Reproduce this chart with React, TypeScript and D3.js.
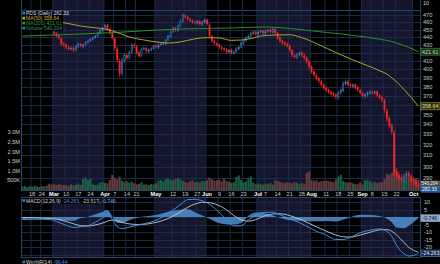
import React from "react";
import * as d3 from "d3";

// ---- Data (trading days Feb 11 – Oct 3, 2014) ----
const tickIdx = [4, 8, 13, 18, 23, 28, 34, 38, 43, 47, 55, 62, 67, 72, 76, 81, 86, 91, 97, 100, 105, 110, 115, 119, 125, 130, 135, 140, 144, 149, 154, 161];
const tickLabels = ["18", "24", "Mar", "10", "17", "24", "Apr", "7", "14", "21", "May", "12", "19", "27", "Jun", "9", "16", "23", "Jul", "7", "14", "21", "28", "Aug", "11", "18", "25", "Sep", "8", "15", "22", "Oct"];
const monthNames = ["Mar", "Apr", "May", "Jun", "Jul", "Aug", "Sep", "Oct"];
const shadedMonths = [[13, 34], [55, 76], [97, 119], [140, 161]];

const closes = [
  452.2, 453.6, 454.9, 456.3, 457.6, 459.0, 460.4, 460.4, 459.0, 461.7,
  457.6, 454.9, 452.2, 445.6, 441.6, 439.0, 431.3, 430.0, 427.5, 425.0,
  426.2, 423.7, 428.7, 431.3, 428.7, 430.0, 433.9, 435.1, 437.7, 439.0,
  441.6, 445.6, 449.6, 452.2, 456.3, 450.9, 445.6, 439.0, 426.2, 411.4,
  394.8, 411.4, 417.5, 413.8, 421.2, 430.0, 428.7, 420.0, 416.3, 425.0,
  426.2, 422.5, 423.7, 425.0, 428.7, 427.5, 430.0, 431.3, 432.6, 436.4,
  441.6, 446.9, 452.2, 449.6, 454.9, 461.7, 470.0, 467.2, 464.5, 461.7,
  460.4, 459.0, 461.7, 457.6, 460.4, 463.1, 457.6, 441.6, 435.1, 432.6,
  430.0, 427.5, 425.0, 423.7, 421.2, 423.7, 420.0, 421.2, 425.0, 427.5,
  432.6, 436.4, 439.0, 441.6, 445.6, 446.9, 444.3, 446.9, 448.2, 445.6,
  448.2, 449.6, 446.9, 450.9, 445.6, 439.0, 435.1, 432.6, 431.3, 428.7,
  423.7, 417.5, 415.0, 418.7, 420.0, 417.5, 413.8, 409.0, 403.0, 397.1,
  393.6, 389.0, 386.7, 382.2, 378.8, 376.6, 374.4, 372.2, 371.1, 368.9,
  373.3, 376.6, 383.3, 385.6, 382.2, 381.0, 382.2, 378.8, 376.6, 373.3,
  370.0, 371.1, 373.3, 374.4, 373.3, 374.4, 370.0, 367.8, 365.7, 355.0,
  345.6, 338.5, 332.6, 295.4, 291.9, 290.2, 288.4, 291.9, 293.6, 291.0,
  288.4, 286.7, 284.2, 282.33,
];
const opens = [
  450.5, 452.0, 454.0, 455.0, 456.5, 457.8, 459.5, 461.0, 460.0, 459.5,
  461.0, 457.0, 455.0, 451.5, 445.0, 442.0, 438.5, 431.5, 430.5, 427.0,
  425.5, 426.5, 424.0, 428.0, 431.5, 428.0, 430.5, 434.0, 435.5, 437.5,
  439.5, 442.0, 445.5, 449.0, 452.5, 456.5, 451.0, 445.0, 438.5, 425.5,
  410.0, 395.5, 411.0, 417.0, 414.0, 421.5, 430.5, 428.0, 420.5, 416.5,
  425.5, 426.0, 422.0, 424.0, 425.5, 429.0, 427.0, 430.5, 431.5, 432.0,
  436.5, 441.0, 447.5, 452.0, 449.0, 455.0, 461.0, 469.5, 467.0, 464.0,
  462.0, 460.0, 458.5, 461.5, 457.0, 460.0, 463.5, 457.0, 441.0, 435.5,
  432.0, 430.5, 427.0, 425.5, 424.0, 421.0, 424.0, 420.5, 421.5, 425.0,
  427.5, 432.0, 436.0, 439.5, 441.5, 445.0, 447.5, 444.0, 447.0, 448.5,
  445.0, 448.0, 450.0, 446.5, 451.0, 445.5, 439.5, 435.5, 433.0, 431.0,
  429.0, 423.5, 417.0, 414.5, 418.5, 420.5, 417.0, 414.0, 409.5, 403.5,
  397.5, 393.0, 389.5, 386.0, 382.5, 379.0, 376.5, 374.0, 372.5, 371.0,
  368.5, 373.0, 376.0, 383.0, 386.0, 382.5, 380.5, 382.5, 379.0, 376.5,
  373.0, 369.5, 371.0, 373.5, 374.5, 373.0, 374.5, 370.5, 368.0, 365.0,
  354.0, 346.0, 339.0, 332.0, 296.0, 292.5, 290.5, 288.0, 292.0, 294.0,
  291.5, 288.5, 287.0, 284.5,
];
const highs = [
  454, 455, 456, 458, 459, 461, 462, 463, 462, 463,
  462, 459, 456, 453, 447, 444, 440, 434, 432, 429,
  428, 428, 430, 433, 433, 432, 435, 437, 439, 441,
  443, 447, 451, 454, 458, 458, 453, 447, 440, 428,
  413, 414, 420, 419, 423, 432, 432, 430, 423, 427,
  428, 428, 426, 427, 430, 431, 432, 433, 434, 438,
  443, 449, 454, 454, 457, 464, 472, 471, 469, 466,
  464, 462, 463, 463, 462, 465, 465, 459, 443, 437,
  434, 432, 429, 427, 426, 425, 426, 423, 427, 429,
  435, 438, 441, 443, 447, 449, 449, 449, 450, 450,
  450, 451, 452, 453, 453, 447, 441, 437, 435, 433,
  431, 425, 419, 420, 422, 422, 419, 416, 411, 405,
  399, 395, 391, 388, 384, 381, 378, 376, 374, 373,
  375, 378, 386, 388, 388, 384, 384, 384, 381, 378,
  375, 373, 375, 376, 376, 376, 376, 372, 370, 367,
  356, 348, 341, 334, 299, 295, 293, 294, 296, 296,
  293, 291, 289, 287,
];
const lows = [
  449, 450, 452, 453, 455, 456, 458, 458, 457, 458,
  456, 453, 450, 443, 440, 437, 429, 428, 425, 423,
  423, 421, 422, 426, 427, 426, 429, 432, 434, 436,
  438, 440, 444, 447, 451, 449, 443, 437, 423, 408,
  391, 393, 408, 411, 412, 419, 426, 418, 414, 415,
  423, 420, 420, 422, 424, 426, 425, 429, 430, 430,
  435, 439, 446, 447, 447, 453, 459, 465, 462, 460,
  458, 457, 457, 455, 455, 458, 455, 439, 433, 430,
  428, 425, 423, 422, 419, 419, 418, 418, 420, 423,
  426, 430, 434, 438, 440, 443, 442, 442, 445, 443,
  443, 446, 445, 445, 443, 437, 433, 430, 429, 427,
  421, 415, 413, 412, 416, 415, 411, 407, 400, 395,
  391, 387, 384, 380, 376, 374, 372, 370, 369, 366,
  366, 371, 374, 381, 380, 379, 378, 377, 374, 371,
  368, 367, 369, 371, 371, 371, 368, 366, 363, 352,
  343, 336, 330, 292, 289, 288, 286, 286, 290, 289,
  286, 284, 282, 280,
];
// volume in thousands
const volumes = [
  180, 220, 150, 200, 170, 230, 190, 160, 210, 180, 240,
  330, 280, 300,
  260, 310, 280, 250,
  270, 220, 300, 250, 280, 330, 260,
  580, 650, 520, 600,
  300, 260, 280,
  380, 420, 360, 350,
  520, 780, 640, 560,
  700, 480, 420, 450,
  380, 430, 350, 300, 320, 400,
  280, 300, 260, 320, 290, 350,
  480, 520, 450, 560, 600, 530, 500, 580, 620, 550,
  480, 420, 380, 450, 500, 400, 420, 380, 460, 440,
  520, 650, 560, 480, 500,
  520, 450, 600, 480,
  420, 380, 400, 680, 760, 520,
  400, 450, 620, 700,
  380, 300, 350, 320, 280, 330,
  300, 360, 280, 500,
  480, 420, 380, 360, 400, 380,
  350, 420, 380, 320, 360, 300,
  900, 950, 520, 480,
  500, 420, 460, 480,
  500, 470, 440, 420, 560, 700,
  800, 460, 420, 380, 400,
  350, 320, 300, 380, 280,
  500, 520, 460, 380, 420, 360,
  400, 420, 600, 850,
  800, 900, 1100, 950, 750,
  650, 600, 700, 620, 580,
  560, 600, 540.2,
];

const ma50Idx = [0, 15, 20, 24, 30, 34, 38, 44, 50, 55, 60, 65, 71, 76, 81, 86, 90, 95, 98, 104, 110, 115, 122, 129, 136, 142, 147, 150, 153, 156, 160, 163];
const ma50Val = [466, 460.8, 457.5, 454.9, 452.5, 450.9, 447.5, 440.3, 436.5, 434, 432.6, 433.9, 438.0, 439.5, 439.0, 436.0, 436.4, 439, 441.6, 443.0, 443.3, 439.5, 430.5, 420.5, 411.5, 404.5, 398.5, 394.5, 388, 380, 368, 358.64];
const ma200Idx = [0, 34, 65, 85, 100, 108, 122, 136, 147, 152, 155, 159, 163];
const ma200Val = [441.6, 445.6, 450.9, 452.2, 453.6, 452.2, 447.4, 442.5, 437.5, 434.5, 431.5, 427, 421.61];

const macdIdx = [0, 5, 11, 14, 18, 21, 24, 27, 30, 33, 35, 37, 39, 41, 44, 48, 52, 56, 60, 63, 66, 68, 71, 74, 77, 79, 82, 85, 87, 90, 93, 96, 99, 103, 106, 109, 112, 115, 118, 121, 125, 129, 132, 135, 139, 143, 147, 150, 152, 154, 157, 159, 161, 163];
const macdLine = [-1.7, -1.5, -1.6, -3, -5.5, -7, -6.5, -5.8, -3.5, -0.5, 1.8, -1.5, -6.5, -7.7, -6.8, -5.2, -3.8, -1.5, 2.5, 5.8, 9.5, 11.6, 11.8, 10.8, 8.5, 6, 1.5, -3.5, -6, -5.8, -2, 1.2, 3, 3.2, 1.5, -0.5, -2.5, -4.5, -7, -9.5, -12, -15, -15, -13.5, -10.5, -8.8, -7.9, -9.5, -13, -19, -24.5, -26, -25.5, -24.263];
const signalLine = [-0.3, -0.6, -1.0, -1.5, -3.0, -4.5, -5.8, -6.0, -5.3, -4.0, -2.8, -2.0, -2.6, -3.6, -4.6, -5.0, -4.5, -3.2, -1.0, 1.5, 4.5, 6.5, 8.6, 9.8, 9.6, 8.8, 6.8, 3.5, 1.0, -1.8, -2.8, -1.8, 0.3, 2.0, 2.2, 1.4, -0.2, -2.0, -4.2, -6.6, -9.4, -12.0, -13.2, -13.4, -12.0, -10.2, -8.6, -8.4, -9.5, -12.0, -17.0, -20.2, -22.2, -23.517];
const histVals = [-1.4, -0.9, -0.6, -1.5, -2.5, -2.5, -0.7, 0.2, 1.8, 3.5, 4.6, 0.5, -3.9, -4.1, -2.2, -0.2, 0.7, 1.7, 3.5, 4.3, 5.0, 5.1, 3.2, 1.0, -1.1, -2.8, -4.5, -5.0, -5.0, -4.0, 0.8, 3.0, 2.7, 1.2, -0.7, -1.9, -2.3, -2.5, -2.8, -2.9, -2.6, -3.0, -1.8, -0.1, 1.5, 1.4, 0.7, -1.1, -3.5, -7.0, -7.5, -5.8, -3.3, -0.746];

const priceGrid = [470, 460, 450, 440, 430, 420, 410, 400, 390, 380, 370, 360, 350, 340, 330, 320, 310, 300, 290];
const priceLabels = [470, 460, 450, 440, 430, 410, 400, 390, 380, 370, 350, 340, 330, 320, 310, 300, 290];
const volTicks = [500, 1000, 1500, 2000, 2500, 3000];
const volTickLabels = ["500K", "1.0M", "1.5M", "2.0M", "2.5M", "3.0M"];
const macdGrid = [10, 5, 0, -5, -10, -15, -20, -25];
const macdLabels = [10, 5, -5, -10, -15, -20];

// ---- Layout / style ----
const W = 440, H = 264;
const PL = 21, PR = 420.5;
const MAIN_TOP = 10.5, MAIN_BOT = 190.5;
const MACD_TOP = 197.5, MACD_BOT = 257.5;
const SHADE = "#15152e";
const GRID = "#1b2b47";
const BORDER = "#2b4368";
const RED = "#ff2222";
const BLUE = "#3f7dc6";
const FONT = "Liberation Sans, Arial, sans-serif";

export default function App() {
  const n = closes.length;
  const x = d3.scaleLinear().domain([0, n - 1]).range([22.4, 418.5]);
  const y = d3.scaleLog().domain([290, 470]).range([178, 15]);
  const yv = d3.scaleLinear().domain([0, 3000]).range([190, 132.4]);
  const ym = d3.scaleLinear().domain([-20, 10]).range([247, 202]);

  const ma50Line = d3.line<number>().x((_, k) => x(ma50Idx[k])).y((v) => y(v)).curve(d3.curveMonotoneX)(ma50Val) || "";
  const ma200Line = d3.line<number>().x((_, k) => x(ma200Idx[k])).y((v) => y(v)).curve(d3.curveMonotoneX)(ma200Val) || "";
  const macdPath = d3.line<number>().x((_, k) => x(macdIdx[k])).y((v) => ym(v)).curve(d3.curveMonotoneX)(macdLine) || "";
  const sigPath = d3.line<number>().x((_, k) => x(macdIdx[k])).y((v) => ym(v)).curve(d3.curveMonotoneX)(signalLine) || "";
  const histPath = d3.area<number>().x((_, k) => x(macdIdx[k])).y0(ym(0)).y1((v) => ym(v)).curve(d3.curveMonotoneX)(histVals) || "";

  const bw = 1.8;

  return (
    <div style={{ width: W, height: H, background: "#000" }}>
      <style>{`html,body{margin:0;padding:0;background:#000;}`}</style>
      <svg width={W} height={H} style={{ display: "block" }} fontFamily={FONT}>
        <defs>
          <clipPath id="mainClip"><rect x={PL} y={MAIN_TOP} width={PR - PL} height={MAIN_BOT - MAIN_TOP} /></clipPath>
          <clipPath id="macdClip"><rect x={PL} y={MACD_TOP} width={PR - PL} height={MACD_BOT - MACD_TOP} /></clipPath>
        </defs>
        <rect x={0} y={0} width={W} height={H} fill="#000" />

        {/* month shading */}
        {shadedMonths.map(([a, b], k) => (
          <g key={"sh" + k}>
            <rect x={x(a) - 1.2} y={0} width={x(b) - x(a)} height={MAIN_BOT} fill={SHADE} />
            <rect x={x(a) - 1.2} y={MACD_TOP} width={x(b) - x(a)} height={MACD_BOT - MACD_TOP} fill={SHADE} />
          </g>
        ))}

        {/* vertical grid */}
        {tickIdx.map((t, k) => (
          <g key={"vg" + k}>
            <line x1={x(t) - 1.2} x2={x(t) - 1.2} y1={0} y2={MAIN_BOT} stroke={GRID} strokeWidth={1} />
            <line x1={x(t) - 1.2} x2={x(t) - 1.2} y1={MACD_TOP} y2={MACD_BOT} stroke={GRID} strokeWidth={1} />
          </g>
        ))}

        {/* horizontal grid */}
        {priceGrid.map((p) => (
          <line key={"hg" + p} x1={PL} x2={PR} y1={Math.round(y(p)) + 0.5} y2={Math.round(y(p)) + 0.5} stroke={GRID} strokeWidth={1} />
        ))}
        {macdGrid.map((m) => (
          <line key={"mg" + m} x1={PL} x2={PR} y1={Math.round(ym(m)) + 0.5} y2={Math.round(ym(m)) + 0.5} stroke={GRID} strokeWidth={1} />
        ))}

        {/* volume bars */}
        <g clipPath="url(#mainClip)">
          {volumes.map((v, i) => {
            const up = i === 0 ? closes[i] >= opens[i] : closes[i] >= closes[i - 1];
            return (
              <rect key={"v" + i} x={x(i) - 1.05} y={yv(v)} width={2.1} height={yv(0) - yv(v)}
                fill={up ? "#1d6b4b" : "#6b4242"} opacity={0.9} />
            );
          })}
        </g>

        {/* candles + moving averages */}
        <g clipPath="url(#mainClip)">
          {closes.map((c, i) => {
            const o = opens[i];
            const prev = i === 0 ? o : closes[i - 1];
            const col = c >= prev ? BLUE : RED;
            const top = y(Math.max(o, c));
            const bot = y(Math.min(o, c));
            const hgt = Math.max(0.9, bot - top);
            const hollow = c > o && hgt > 2.5;
            return (
              <g key={"c" + i}>
                <line x1={x(i)} x2={x(i)} y1={y(highs[i])} y2={y(lows[i])} stroke={col} strokeWidth={0.8} />
                {hollow ? (
                  <rect x={x(i) - bw / 2 + 0.3} y={top + 0.3} width={bw - 0.6} height={hgt - 0.6} fill="#000" stroke={col} strokeWidth={0.6} />
                ) : (
                  <rect x={x(i) - bw / 2} y={top} width={bw} height={hgt} fill={col} />
                )}
              </g>
            );
          })}
          <path d={ma200Line} fill="none" stroke="#2a8f2a" strokeWidth={1} />
          <path d={ma50Line} fill="none" stroke="#b0a22a" strokeWidth={1} />
        </g>

        {/* MACD */}
        <g clipPath="url(#macdClip)">
          <path d={histPath} fill="#4f90cf" opacity={0.85} />
          <path d={sigPath} fill="none" stroke="#c9c9c9" strokeWidth={0.9} />
          <path d={macdPath} fill="none" stroke="#3b8fe6" strokeWidth={1} />
        </g>

        {/* panel borders */}
        <line x1={PL} x2={PR} y1={MAIN_TOP} y2={MAIN_TOP} stroke={BORDER} />
        <line x1={PL} x2={PR} y1={MAIN_BOT} y2={MAIN_BOT} stroke={BORDER} />
        <line x1={PL} x2={PR} y1={MACD_TOP} y2={MACD_TOP} stroke={BORDER} />
        <line x1={PL} x2={PR} y1={MACD_BOT} y2={MACD_BOT} stroke={BORDER} />
        <line x1={PL + 0.5} x2={PL + 0.5} y1={0} y2={MAIN_BOT} stroke={BORDER} />
        <line x1={PL + 0.5} x2={PL + 0.5} y1={MACD_TOP} y2={MACD_BOT} stroke={BORDER} />
        <line x1={PR} x2={PR} y1={0} y2={MAIN_BOT} stroke={BORDER} />
        <line x1={PR} x2={PR} y1={MACD_TOP} y2={MACD_BOT} stroke={BORDER} />

        {/* main legend */}
        <rect x={PL + 1} y={MAIN_TOP + 0.8} width={41} height={20} fill="#000" />
        {[
          { t: "PDS (Daily) 282.33", c: "#d6dbe6", ic: BLUE },
          { t: "MA(50) 358.64", c: "#c2b22c", ic: "#c2b22c" },
          { t: "MA(200) 421.61", c: "#2f9d2f", ic: "#2f9d2f" },
          { t: "Volume 540,204", c: "#2a9a6a", ic: "#2a9a6a" },
        ].map((r, k) => (
          <g key={"lg" + k}>
            <rect x={22.5} y={11.8 + k * 5} width={2.6} height={2.6} fill={r.ic} />
            <text x={26} y={13.2 + k * 5} fontSize={5} fill={r.c} dominantBaseline="central">{r.t}</text>
          </g>
        ))}

        {/* right price axis */}
        <text x={423} y={3} fontSize={5.6} fill="#c8c8c8" dominantBaseline="central">10</text>
        {priceLabels.map((p) => (
          <text key={"pt" + p} x={423} y={y(p)} fontSize={5.6} fill="#c8c8c8" dominantBaseline="central">{p}</text>
        ))}
        {/* left volume axis */}
        {volTicks.map((v, k) => (
          <text key={"vt" + v} x={20} y={yv(v)} fontSize={5.6} fill="#c8c8c8" textAnchor="end" dominantBaseline="central">{volTickLabels[k]}</text>
        ))}

        {/* value boxes */}
        <g fontSize={5.4}>
          <rect x={421} y={y(421.61) - 3.5} width={19} height={7} fill="#143214" stroke="#3a9a3a" strokeWidth={0.6} />
          <text x={422} y={y(421.61)} fill="#d8d8d8" dominantBaseline="central">421.61</text>
          <rect x={421} y={y(358.64) - 3.5} width={19} height={7} fill="#2a2a08" stroke="#b8aa30" strokeWidth={0.6} />
          <text x={422} y={y(358.64)} fill="#e0e0c0" dominantBaseline="central">358.64</text>
          <rect x={421} y={181} width={19} height={5.2} fill="#4a4a4a" stroke="#777" strokeWidth={0.5} />
          <text x={421.6} y={183.6} fill="#f0f0f0" fontSize={4.5} dominantBaseline="central">540,204</text>
          <rect x={421} y={186.6} width={19} height={5.6} fill="#23508e" stroke="#4a80c8" strokeWidth={0.5} />
          <text x={422} y={189.4} fill="#ffffff" fontSize={4.9} dominantBaseline="central">282.33</text>
        </g>

        {/* x axis labels */}
        {tickIdx.map((t, k) => {
          const lab = tickLabels[k];
          const isM = monthNames.includes(lab);
          return (
            <text key={"xl" + k} x={x(t)} y={194} fontSize={5.6} textAnchor="middle" dominantBaseline="central"
              fill={isM ? "#ffffff" : "#c8c8c8"} fontWeight={isM ? "bold" : "normal"}>{lab}</text>
          );
        })}

        {/* MACD axis */}
        {macdLabels.map((m) => (
          <text key={"ma" + m} x={424} y={ym(m)} fontSize={5.6} fill="#c8c8c8" dominantBaseline="central">{m}</text>
        ))}
        <g fontSize={5.2}>
          <rect x={421} y={ym(-0.746) - 3.3} width={19} height={6.6} fill="#8aa4c4" stroke="#c0d0e0" strokeWidth={0.5} />
          <text x={422.5} y={ym(-0.746)} fill="#10203a" dominantBaseline="central">-0.746</text>
          <rect x={421} y={ym(-24.263) - 3.3} width={19} height={6.6} fill="#0f2747" stroke="#4a8fd8" strokeWidth={0.6} />
          <text x={421.8} y={ym(-24.263)} fill="#e8eef8" dominantBaseline="central">-24.263</text>
        </g>

        {/* MACD legend */}
        <rect x={PL + 1} y={MACD_TOP + 0.8} width={76} height={5.5} fill="#000" />
        <rect x={22.5} y={199.2} width={2.6} height={2.6} fill={BLUE} />
        <text x={26} y={200.6} fontSize={5} dominantBaseline="central" fill="#d0d0d0">
          MACD(12,26,9) <tspan fill="#4a92e0">-24.263</tspan>, <tspan fill="#d0d0d0">-23.517</tspan>, <tspan fill="#6aa8e8">-0.746</tspan>
        </text>

        {/* Williams %R legend */}
        <rect x={22.5} y={260.7} width={2.6} height={2.6} fill={BLUE} />
        <text x={26} y={262.1} fontSize={5} dominantBaseline="central" fill="#d0d0d0">
          Wm%R(14) <tspan fill="#4a92e0">-96.44</tspan>
        </text>
      </svg>
    </div>
  );
}
